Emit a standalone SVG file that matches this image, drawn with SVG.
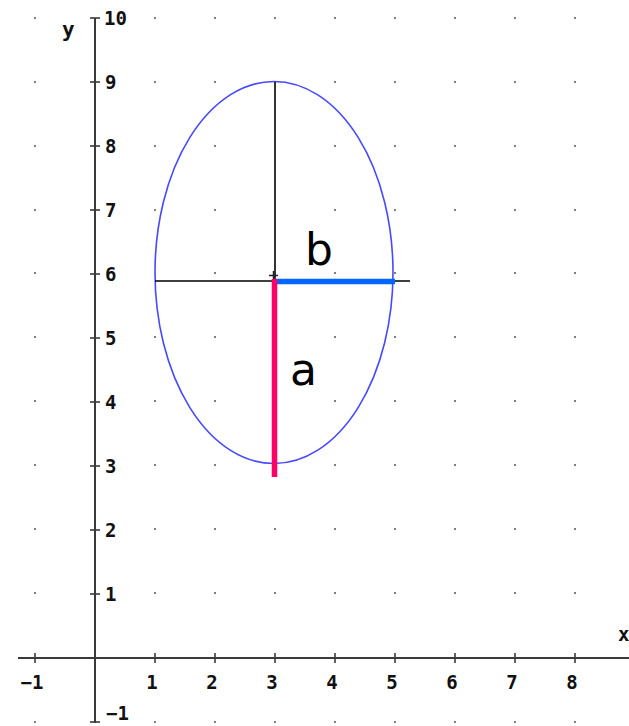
<svg xmlns="http://www.w3.org/2000/svg" width="629" height="726" viewBox="0 0 629 726">
<style>
.dot{fill:#808080}
.axis{stroke:#3a3a3a;stroke-width:2;fill:none}
.tick{stroke:#3a3a3a;stroke-width:1.6}
.lbl{font-family:"DejaVu Sans Mono","Liberation Mono",monospace;font-weight:bold;font-size:19px;fill:#111}
.big{font-family:"DejaVu Sans","Verdana",sans-serif;font-size:44px;fill:#000}
</style>
<rect width="629" height="726" fill="#fff"/>
<g id="grid">
<g class="dot">
<rect x="34" y="17" width="2" height="2"/><rect x="154" y="17" width="2" height="2"/><rect x="214" y="17" width="2" height="2"/><rect x="274" y="17" width="2" height="2"/><rect x="334" y="17" width="2" height="2"/><rect x="394" y="17" width="2" height="2"/><rect x="454" y="17" width="2" height="2"/><rect x="514" y="17" width="2" height="2"/><rect x="574" y="17" width="2" height="2"/>
<rect x="34" y="81" width="2" height="2"/><rect x="154" y="81" width="2" height="2"/><rect x="214" y="81" width="2" height="2"/><rect x="334" y="81" width="2" height="2"/><rect x="394" y="81" width="2" height="2"/><rect x="454" y="81" width="2" height="2"/><rect x="514" y="81" width="2" height="2"/><rect x="574" y="81" width="2" height="2"/>
<rect x="34" y="145" width="2" height="2"/><rect x="154" y="145" width="2" height="2"/><rect x="214" y="145" width="2" height="2"/><rect x="334" y="145" width="2" height="2"/><rect x="394" y="145" width="2" height="2"/><rect x="454" y="145" width="2" height="2"/><rect x="514" y="145" width="2" height="2"/><rect x="574" y="145" width="2" height="2"/>
<rect x="34" y="209" width="2" height="2"/><rect x="154" y="209" width="2" height="2"/><rect x="214" y="209" width="2" height="2"/><rect x="334" y="209" width="2" height="2"/><rect x="394" y="209" width="2" height="2"/><rect x="454" y="209" width="2" height="2"/><rect x="514" y="209" width="2" height="2"/><rect x="574" y="209" width="2" height="2"/>
<rect x="34" y="272" width="2" height="2"/><rect x="214" y="272" width="2" height="2"/><rect x="334" y="272" width="2" height="2"/><rect x="394" y="272" width="2" height="2"/><rect x="454" y="272" width="2" height="2"/><rect x="514" y="272" width="2" height="2"/><rect x="574" y="272" width="2" height="2"/>
<rect x="34" y="336" width="2" height="2"/><rect x="154" y="336" width="2" height="2"/><rect x="214" y="336" width="2" height="2"/><rect x="334" y="336" width="2" height="2"/><rect x="394" y="336" width="2" height="2"/><rect x="454" y="336" width="2" height="2"/><rect x="514" y="336" width="2" height="2"/><rect x="574" y="336" width="2" height="2"/>
<rect x="34" y="400" width="2" height="2"/><rect x="154" y="400" width="2" height="2"/><rect x="214" y="400" width="2" height="2"/><rect x="334" y="400" width="2" height="2"/><rect x="394" y="400" width="2" height="2"/><rect x="454" y="400" width="2" height="2"/><rect x="514" y="400" width="2" height="2"/><rect x="574" y="400" width="2" height="2"/>
<rect x="34" y="464" width="2" height="2"/><rect x="154" y="464" width="2" height="2"/><rect x="214" y="464" width="2" height="2"/><rect x="334" y="464" width="2" height="2"/><rect x="394" y="464" width="2" height="2"/><rect x="454" y="464" width="2" height="2"/><rect x="514" y="464" width="2" height="2"/><rect x="574" y="464" width="2" height="2"/>
<rect x="34" y="528" width="2" height="2"/><rect x="154" y="528" width="2" height="2"/><rect x="214" y="528" width="2" height="2"/><rect x="274" y="528" width="2" height="2"/><rect x="334" y="528" width="2" height="2"/><rect x="394" y="528" width="2" height="2"/><rect x="454" y="528" width="2" height="2"/><rect x="514" y="528" width="2" height="2"/><rect x="574" y="528" width="2" height="2"/>
<rect x="34" y="592" width="2" height="2"/><rect x="154" y="592" width="2" height="2"/><rect x="214" y="592" width="2" height="2"/><rect x="274" y="592" width="2" height="2"/><rect x="334" y="592" width="2" height="2"/><rect x="394" y="592" width="2" height="2"/><rect x="454" y="592" width="2" height="2"/><rect x="514" y="592" width="2" height="2"/><rect x="574" y="592" width="2" height="2"/>
<rect x="34" y="721" width="2" height="2"/><rect x="154" y="721" width="2" height="2"/><rect x="214" y="721" width="2" height="2"/><rect x="274" y="721" width="2" height="2"/><rect x="334" y="721" width="2" height="2"/><rect x="394" y="721" width="2" height="2"/><rect x="454" y="721" width="2" height="2"/><rect x="514" y="721" width="2" height="2"/><rect x="574" y="721" width="2" height="2"/>
</g>
</g>
<g id="axes">
<line class="axis" x1="18" y1="658" x2="629" y2="658"/>
<line class="axis" x1="95" y1="18" x2="95" y2="723"/>
<g class="tick">
<line x1="35" y1="653" x2="35" y2="663"/><line x1="155" y1="653" x2="155" y2="663"/><line x1="215" y1="653" x2="215" y2="663"/><line x1="275" y1="653" x2="275" y2="663"/><line x1="335" y1="653" x2="335" y2="663"/><line x1="395" y1="653" x2="395" y2="663"/><line x1="455" y1="653" x2="455" y2="663"/><line x1="515" y1="653" x2="515" y2="663"/><line x1="575" y1="653" x2="575" y2="663"/>
<line x1="90" y1="18" x2="100" y2="18"/><line x1="90" y1="82" x2="100" y2="82"/><line x1="90" y1="146" x2="100" y2="146"/><line x1="90" y1="210" x2="100" y2="210"/><line x1="90" y1="274" x2="100" y2="274"/><line x1="90" y1="338" x2="100" y2="338"/><line x1="90" y1="402" x2="100" y2="402"/><line x1="90" y1="466" x2="100" y2="466"/><line x1="90" y1="530" x2="100" y2="530"/><line x1="90" y1="594" x2="100" y2="594"/><line x1="90" y1="722" x2="100" y2="722"/>
</g>
<g class="lbl" text-anchor="middle">
<text x="32" y="689">−1</text><text x="152" y="689">1</text><text x="212" y="689">2</text><text x="272" y="689">3</text><text x="332" y="689">4</text><text x="392" y="689">5</text><text x="452" y="689">6</text><text x="512" y="689">7</text><text x="572" y="689">8</text>
</g>
<g class="lbl">
<text x="104" y="25">10</text><text x="105" y="89">9</text><text x="105" y="153">8</text><text x="105" y="217">7</text><text x="105" y="281">6</text><text x="105" y="345">5</text><text x="105" y="409">4</text><text x="105" y="473">3</text><text x="105" y="537">2</text><text x="105" y="601">1</text><text x="106" y="720">−1</text>
<text x="62" y="37" font-size="21">y</text>
<text x="618" y="641">x</text>
</g>
</g>
<g id="ellipse">
<ellipse cx="274" cy="272.5" rx="119" ry="191" fill="none" stroke="#4848ff" stroke-width="1.6"/>
</g>
<g id="connectors">
<line x1="155" y1="281" x2="410" y2="281" stroke="#000" stroke-width="1.6"/>
<line x1="275" y1="82" x2="275" y2="281" stroke="#000" stroke-width="1.6"/>
<path d="M269 275.5H278M273.5 271V280" stroke="#222" stroke-width="1.5"/>
<line x1="275" y1="281.5" x2="395" y2="281.5" stroke="#0066ff" stroke-width="5.5"/>
<line x1="274.5" y1="279" x2="274.5" y2="477" stroke="#ff0066" stroke-width="5.5"/>
</g>
<g id="labels">
<text class="big" x="305" y="265">b</text>
<text class="big" x="290" y="385">a</text>
</g>
</svg>
